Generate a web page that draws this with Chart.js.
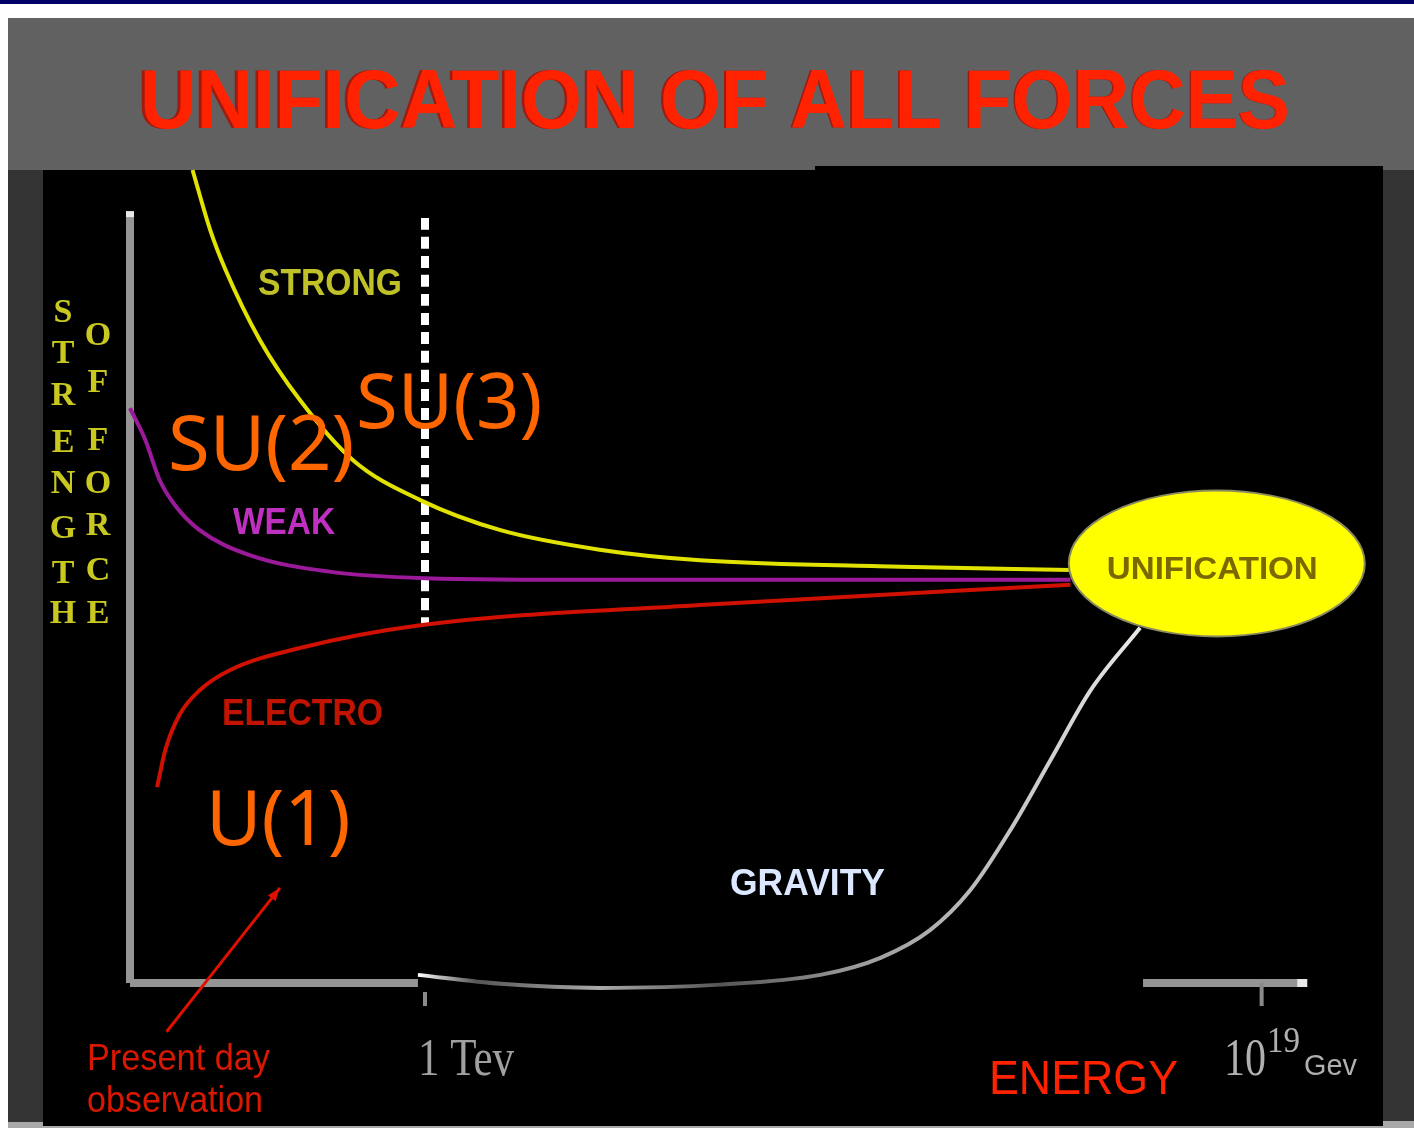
<!DOCTYPE html>
<html lang="en">
<head>
  <meta charset="UTF-8">
  <title>Unification of all forces</title>
  <script src="https://cdn.jsdelivr.net/npm/chart.js"></script>
  <style>
    body {
      margin: 0;
      background: #fff;
      overflow: hidden;
    }
    canvas {
      display: block;
    }
  </style>
</head>
<body>

<canvas id="myChart" width="1414" height="1128"></canvas>

<script>
// energy (arbitrary units, 0..100) vs strength of force (0..100)
const strongX = [5.3, 6.8, 8.1, 11.0, 14.4, 18.9, 24.6, 31.4, 39.8, 48.3, 65.3, 79.7];
const strongY = [100, 92.6, 87.7, 79.1, 71.7, 64.3, 59.4, 55.7, 53.3, 52.0, 51.2, 50.8];

const weakX = [0, 1.3, 2.5, 3.8, 5.9, 10.2, 16.9, 25.0, 39.8, 79.7];
const weakY = [70.7, 66.8, 61.9, 58.8, 55.7, 52.6, 50.6, 49.8, 49.6, 49.6];

const electroX = [2.3, 3.0, 4.2, 5.9, 8.5, 14.4, 24.6, 48.3, 79.7];
const electroY = [24.1, 28.7, 33.0, 36.0, 38.5, 41.2, 44.0, 46.5, 49.0];

const gravityX = [24.4, 31.4, 39.8, 50.0, 58.5, 63.6, 67.8, 71.2, 74.6, 78.0, 81.4, 85.6];
const gravityY = [1.0, -0.1, -0.6, -0.2, 1.0, 3.1, 6.5, 11.4, 18.8, 27.4, 36.0, 43.7];

// 1 TeV marker and the unification point
const tevX = 25.0;
const tevLine = [94.1, 44.0];
const unifyX = 92.1;
const unifyY = 51.6;

// axis pieces
const yAxisTop = 94.7;
const xAxisLeft = [0, 24.4];
const xAxisRight = [85.85, 99.6];
const tickX = [25.0, 95.9];

// "present day observation" pointer
const pointerX = [3.1, 12.7];
const pointerY = [-6.0, 11.7];

const labels = ['STRONG', 'WEAK', 'ELECTRO', 'GRAVITY'];
const yTitleLeft = 'STRENGTH';
const yTitleRight = 'OFFORCE';

function pts(xs, ys) {
  return xs.map((x, i) => ({ x: x, y: ys[i] }));
}

function line(data, color, width, extra) {
  return Object.assign({
    data: data,
    showLine: true,
    borderColor: color,
    borderWidth: width,
    pointRadius: 0,
    fill: false,
    clip: false,
    cubicInterpolationMode: 'monotone'
  }, extra || {});
}

// draw text squeezed/stretched to a given width
function fitText(ctx, text, x, y, w, font, color) {
  ctx.save();
  ctx.font = font;
  ctx.fillStyle = color;
  ctx.textBaseline = 'alphabetic';
  ctx.textAlign = 'left';
  const m = ctx.measureText(text).width;
  ctx.translate(x, y);
  ctx.scale(w / m, 1);
  ctx.fillText(text, 0, 0);
  ctx.restore();
}

const backdrop = {
  id: 'backdrop',
  beforeDraw(chart) {
    const ctx = chart.ctx;
    ctx.save();
    ctx.fillStyle = '#ffffff';
    ctx.fillRect(0, 0, 1414, 1128);
    ctx.fillStyle = '#000066';
    ctx.fillRect(0, 0, 1414, 4);
    ctx.fillStyle = '#616161';
    ctx.fillRect(8, 18, 1406, 152);
    ctx.fillStyle = '#333333';
    ctx.fillRect(8, 170, 35, 952);
    ctx.fillRect(1383, 170, 31, 952);
    ctx.fillStyle = '#000000';
    ctx.fillRect(43, 170, 1340, 956);
    ctx.fillRect(815, 166, 568, 4);
    ctx.fillStyle = '#a8a8a8';
    ctx.fillRect(8, 1122, 35, 6);
    ctx.fillRect(43, 1126, 1340, 2);
    ctx.fillRect(1383, 1121, 31, 7);
    ctx.restore();

    // title
    fitText(ctx, 'UNIFICATION OF ALL FORCES', 137, 128, 1152, 'bold 84px "Liberation Sans"', '#a01a10');
    fitText(ctx, 'UNIFICATION OF ALL FORCES', 140, 128, 1150, 'bold 84px "Liberation Sans"', '#ff2200');
  }
};

const overlay = {
  id: 'overlay',
  afterDatasetsDraw(chart) {
    const ctx = chart.ctx;
    const sx = chart.scales.x, sy = chart.scales.y;
    const px = v => sx.getPixelForValue(v);
    const py = v => sy.getPixelForValue(v);

    // axis ticks
    ctx.save();
    ctx.fillStyle = '#8a8a8a';
    ctx.fillRect(px(tickX[0]) - 2, py(0) + 9, 4, 14);
    ctx.fillRect(px(tickX[1]) - 2, py(0), 4, 23);
    // arrow tip of energy axis
    ctx.fillStyle = '#e8e8e8';
    ctx.fillRect(px(xAxisRight[1]) - 8, py(0) - 4, 10, 8);
    // cap on top of strength axis
    ctx.fillRect(px(0) - 4, py(yAxisTop) - 2, 8, 6);
    ctx.restore();

    // pointer head
    const x1 = px(pointerX[0]), y1 = py(pointerY[0]);
    const x2 = px(pointerX[1]), y2 = py(pointerY[1]);
    const a = Math.atan2(y2 - y1, x2 - x1);
    ctx.save();
    ctx.fillStyle = '#e01000';
    ctx.beginPath();
    ctx.moveTo(x2, y2);
    ctx.lineTo(x2 - 14 * Math.cos(a - 0.35), y2 - 14 * Math.sin(a - 0.35));
    ctx.lineTo(x2 - 14 * Math.cos(a + 0.35), y2 - 14 * Math.sin(a + 0.35));
    ctx.closePath();
    ctx.fill();
    ctx.restore();

    // unification blob
    const cx = px(unifyX), cy = py(unifyY);
    ctx.save();
    ctx.fillStyle = '#ffff00';
    ctx.strokeStyle = '#8a8a60';
    ctx.lineWidth = 2;
    ctx.beginPath();
    ctx.ellipse(cx, cy, 148, 73, 0, 0, Math.PI * 2);
    ctx.fill();
    ctx.stroke();
    ctx.restore();
    fitText(ctx, 'UNIFICATION', cx - 110, cy + 16, 211, 'bold 32px "Liberation Sans"', '#7a6800');

    // curve names
    fitText(ctx, labels[0], 258, 295, 144, 'bold 36px "Liberation Sans"', '#c0c028');
    fitText(ctx, labels[1], 233, 534, 102, 'bold 36px "Liberation Sans"', '#c030c0');
    fitText(ctx, labels[2], 222, 725, 161, 'bold 36px "Liberation Sans"', '#c01400');
    fitText(ctx, labels[3], 730, 895, 155, 'bold 36px "Liberation Sans"', '#dce8ff');

    // groups
    ctx.save();
    ctx.font = '76px "Noto Sans"';
    ctx.fillStyle = '#ff6600';
    ctx.textBaseline = 'alphabetic';
    ctx.fillText('SU(3)', 356, 428);
    ctx.fillText('SU(2)', 168, 470);
    ctx.fillText('U(1)', 206, 845);
    ctx.restore();

    // strength-of-force title, one letter per row
    ctx.save();
    ctx.font = 'bold 34px "Liberation Serif"';
    ctx.fillStyle = '#c8c820';
    ctx.textAlign = 'center';
    ctx.textBaseline = 'alphabetic';
    const leftRows = [322, 363, 405, 452, 493, 538, 583, 623];
    const rightRows = [345, 392, 450, 493, 535, 580, 623];
    yTitleLeft.split('').forEach((ch, i) => ctx.fillText(ch, 63, leftRows[i]));
    yTitleRight.split('').forEach((ch, i) => ctx.fillText(ch, 98, rightRows[i]));
    ctx.restore();

    // bottom texts
    fitText(ctx, 'Present day', 87, 1070, 183, '36px "Liberation Sans"', '#d81800');
    fitText(ctx, 'observation', 87, 1112, 176, '36px "Liberation Sans"', '#d81800');
    fitText(ctx, '1 Tev', 418, 1075, 96, '52px "Liberation Serif"', '#a0a0a0');
    fitText(ctx, 'ENERGY', 989, 1094, 189, '48px "Liberation Sans"', '#ff2200');
    fitText(ctx, '10', 1224, 1075, 42, '52px "Liberation Serif"', '#b0b0b0');
    fitText(ctx, '19', 1267, 1052, 33, '36px "Liberation Serif"', '#b0b0b0');
    fitText(ctx, 'Gev', 1304, 1075, 53, '30px "Liberation Sans"', '#b0b0b0');
  }
};

const gravityColor = function (context) {
  const chart = context.chart;
  if (!chart.chartArea) return '#cccccc';
  const sx = chart.scales.x;
  const g = chart.ctx.createLinearGradient(sx.getPixelForValue(gravityX[0]), 0,
    sx.getPixelForValue(gravityX[gravityX.length - 1]), 0);
  g.addColorStop(0, '#ffffff');
  g.addColorStop(0.08, '#555555');
  g.addColorStop(0.25, '#aaaaaa');
  g.addColorStop(0.42, '#555555');
  g.addColorStop(0.6, '#999999');
  g.addColorStop(1, '#e8e8e8');
  return g;
};

const config = {
  type: 'scatter',
  data: {
    datasets: [
      line(pts([0, 0], [0, yAxisTop]), '#959595', 8, { cubicInterpolationMode: 'default', order: 5 }),
      line(pts(xAxisLeft, [0, 0]), '#959595', 8, { order: 5 }),
      line(pts(xAxisRight, [0, 0]), '#959595', 8, { order: 5 }),
      line(pts([tevX, tevX], tevLine), '#ffffff', 8, { borderDash: [12, 7], order: 4 }),
      line(pts(strongX, strongY), '#e2e200', 4, { order: 1 }),
      line(pts(weakX, weakY), '#9a1a9a', 4, { order: 2 }),
      line(pts(electroX, electroY), '#d01000', 4, { order: 1 }),
      line(pts(gravityX, gravityY), gravityColor, 4, { order: 1 }),
      line(pts(pointerX, pointerY), '#e01000', 3, { order: 0 })
    ]
  },
  options: {
    responsive: false,
    animation: false,
    layout: {
      padding: { left: 130, right: 104, top: 170, bottom: 145 }
    },
    scales: {
      x: { type: 'linear', min: 0, max: 100, display: false },
      y: { type: 'linear', min: 0, max: 100, display: false }
    },
    plugins: {
      legend: { display: false },
      tooltip: { enabled: false }
    }
  },
  plugins: [backdrop, overlay]
};

const ctx = document.getElementById('myChart').getContext('2d');
const chart = new Chart(ctx, config);
</script>

</body>
</html>
